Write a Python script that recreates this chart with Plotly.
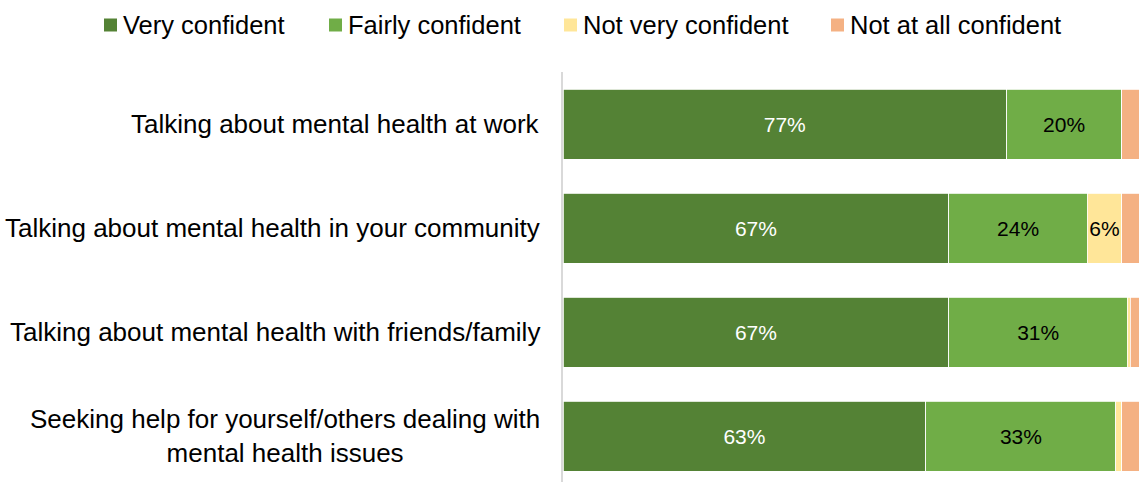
import plotly.graph_objects as go

# Survey items (top to bottom) and share of respondents per confidence level (%)
categories = [
    "Talking about mental health at work",
    "Talking about mental health in your community",
    "Talking about mental health with friends/family",
    "Seeking help for yourself/others dealing with<br>mental health issues",
]
very_confident = [77, 67, 67, 63]
fairly_confident = [20, 24, 31, 33]
not_very_confident = [0, 6, 0.5, 1]
not_at_all_confident = [3, 3, 1.5, 3]

series_names = ["Very confident", "Fairly confident", "Not very confident", "Not at all confident"]
series_values = [very_confident, fairly_confident, not_very_confident, not_at_all_confident]
series_colors = ["#548235", "#70ad47", "#ffe699", "#f4b183"]
label_colors = ["#ffffff", "#000000", "#000000", "#000000"]

FONT = "Liberation Sans, Arial, sans-serif"
W, H = 1141, 482
M_L, M_R, M_T, M_B = 563, 2, 72, 0
PLOT_W = W - M_L - M_R
PLOT_H = H - M_T - M_B


def px_x(px):
    """Pixel column -> paper x."""
    return (px - M_L) / PLOT_W


def px_y(py):
    """Pixel row -> paper y."""
    return (H - M_B - py) / PLOT_H


fig = go.Figure()
for name, vals, color, tcolor in zip(series_names, series_values, series_colors, label_colors):
    fig.add_trace(go.Bar(
        y=categories,
        x=vals,
        name=name,
        orientation="h",
        marker=dict(color=color, line=dict(color="#ffffff", width=0.8)),
        text=[f"{v:.0f}%" if v >= 5 else "" for v in vals],
        textposition="inside",
        insidetextanchor="middle",
        textangle=0,
        textfont=dict(family=FONT, size=21, color=tcolor),
        showlegend=False,
        hoverinfo="name+x",
    ))

# Category labels, right-aligned block with centred lines
annotations = []
for cat in categories:
    annotations.append(dict(
        x=0, xref="paper", y=cat, yref="y",
        text=cat, showarrow=False,
        xanchor="right", yanchor="middle", align="center",
        xshift=-21,
        font=dict(family=FONT, size=26, color="#000000"),
    ))

# Legend row across the top
legend_square_x = [104, 329, 564, 831]
shapes = []
for name, color, sx in zip(series_names, series_colors, legend_square_x):
    shapes.append(dict(
        type="rect", xref="paper", yref="paper",
        x0=px_x(sx), x1=px_x(sx + 13),
        y0=px_y(31.5), y1=px_y(18.5),
        fillcolor=color, line=dict(width=0),
    ))
    annotations.append(dict(
        x=px_x(sx + 19), xref="paper", y=px_y(25), yref="paper",
        text=name, showarrow=False,
        xanchor="left", yanchor="middle",
        xshift=-2,
        font=dict(family=FONT, size=25.5, color="#000000"),
    ))

fig.update_layout(
    barmode="stack",
    bargap=0.327,
    width=W, height=H,
    margin=dict(l=M_L, r=M_R, t=M_T, b=M_B, pad=0),
    paper_bgcolor="#ffffff",
    plot_bgcolor="#ffffff",
    uniformtext=dict(minsize=21, mode="show"),
    xaxis=dict(range=[0, 100], visible=False, fixedrange=True),
    yaxis=dict(
        range=[3.442, -0.5],
        showticklabels=False,
        ticks="",
        showgrid=False,
        zeroline=False,
        showline=True,
        linecolor="#d9d9d9",
        linewidth=1.5,
        fixedrange=True,
    ),
    annotations=annotations,
    shapes=shapes,
)

fig.write_html("out.html", config={"displayModeBar": False})
